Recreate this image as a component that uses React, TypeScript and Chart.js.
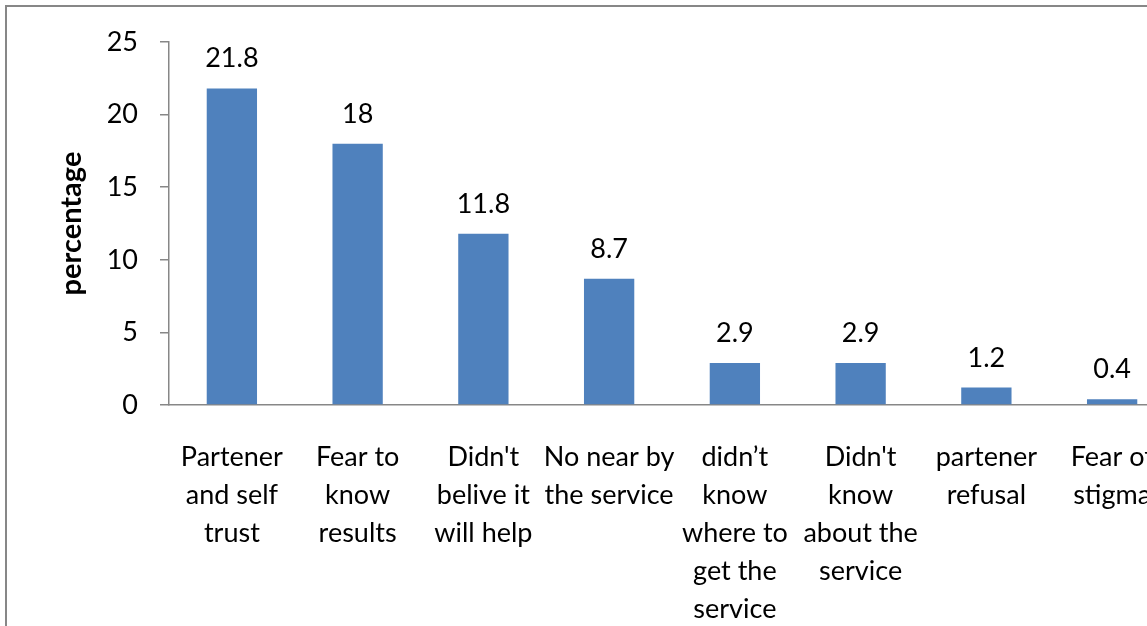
import React, { useEffect, useRef } from "react";
import { Chart, registerables } from "chart.js";

Chart.register(...registerables);

const categories: string[][] = [
  ["Partener", "and self", "trust"],
  ["Fear to", "know", "results"],
  ["Didn't", "belive it", "will help"],
  ["No near by", "the service"],
  ["didn\u2019t", "know", "where to", "get the", "service"],
  ["Didn't", "know", "about the", "service"],
  ["partener", "refusal"],
  ["Fear of", "stigma"],
];
const values: number[] = [21.8, 18, 11.8, 8.7, 2.9, 2.9, 1.2, 0.4];
const valueLabels: string[] = ["21.8", "18", "11.8", "8.7", "2.9", "2.9", "1.2", "0.4"];
const yTicks: number[] = [0, 5, 10, 15, 20, 25];
const yTitle = "percentage";

const FONT = "Lato";
const FS = 27;
const AXIS = "#878787";

const labelPlugin = {
  id: "valueLabels",
  afterDatasetsDraw(chart: any) {
    const ctx = chart.ctx;
    const meta = chart.getDatasetMeta(0);
    ctx.save();
    ctx.font = `${FS}px ${FONT}`;
    ctx.fillStyle = "#000";
    ctx.textAlign = "center";
    ctx.textBaseline = "alphabetic";
    meta.data.forEach((bar: any, i: number) => {
      ctx.fillText(valueLabels[i], bar.x, bar.y - 21);
    });
    ctx.restore();
  },
};

export default function App() {
  const ref = useRef<HTMLCanvasElement>(null);
  useEffect(() => {
    if (!ref.current) return;
    const chart = new Chart(ref.current, {
      type: "bar",
      data: {
        labels: categories,
        datasets: [
          {
            data: values,
            backgroundColor: "#4F81BD",
            borderWidth: 0,
            barPercentage: 0.4,
            categoryPercentage: 1,
          },
        ],
      },
      options: {
        animation: false,
        responsive: false,
        maintainAspectRatio: false,
        layout: { padding: { left: 0, top: 42, right: 5, bottom: 0 } },
        plugins: { legend: { display: false }, tooltip: { enabled: false } },
        scales: {
          x: {
            offset: true,
            grid: { display: false },
            border: { display: true, color: AXIS, width: 1.5 },
            ticks: {
              color: "#000",
              font: { family: FONT, size: FS, lineHeight: 38 / FS },
              padding: 25,
              maxRotation: 0,
              autoSkip: false,
            },
            afterFit: (s: any) => {
              s.height = 640 - 405;
            },
          },
          y: {
            min: 0,
            max: 25,
            afterBuildTicks: (s: any) => {
              s.ticks = yTicks.map((v) => ({ value: v }));
            },
            grid: {
              display: true,
              drawOnChartArea: false,
              drawTicks: true,
              tickLength: 9,
              color: AXIS,
              lineWidth: 1.5,
            },
            border: { display: true, color: AXIS, width: 1.5 },
            ticks: {
              color: "#000",
              font: { family: FONT, size: FS },
              padding: 22,
            },
            title: {
              display: true,
              text: yTitle,
              color: "#000",
              font: { family: FONT, size: 29, weight: "bold" },
              padding: { top: 54, bottom: 0 },
            },
            afterFit: (s: any) => {
              s.width = 169;
            },
          },
        },
      },
      plugins: [labelPlugin],
    });
    return () => chart.destroy();
  }, []);

  return (
    <div
      style={{
        position: "fixed",
        left: 0,
        top: 0,
        width: 1147,
        height: 626,
        overflow: "hidden",
        background: "#fff",
      }}
    >
      <canvas
        ref={ref}
        width={1180}
        height={640}
        style={{ position: "absolute", left: 0, top: 0, width: 1180, height: 640 }}
      />
      <div
        style={{
          position: "absolute",
          left: 5,
          top: 5,
          width: 1400,
          height: 900,
          borderLeft: `2px solid ${AXIS}`,
          borderTop: `2px solid ${AXIS}`,
          pointerEvents: "none",
        }}
      />
    </div>
  );
}
